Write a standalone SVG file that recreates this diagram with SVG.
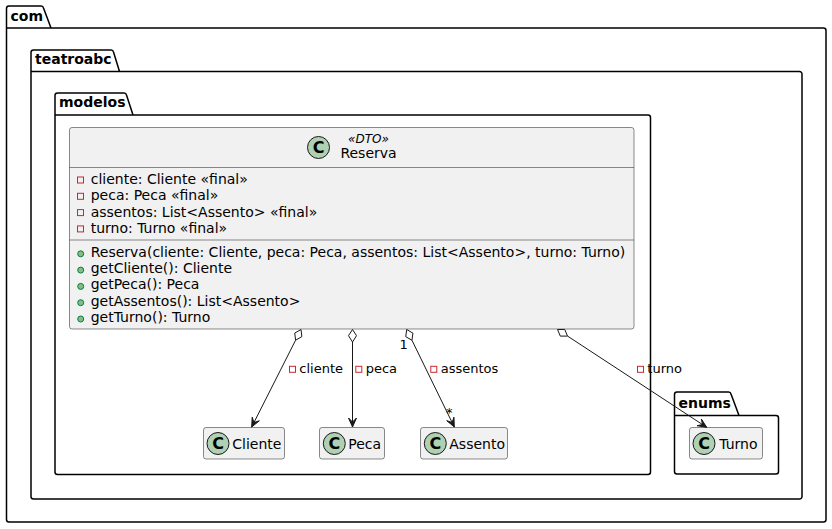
<svg xmlns="http://www.w3.org/2000/svg" width="832" height="529" viewBox="0 0 832 529">
<style>
.pkg{fill:none;stroke:#000000;stroke-width:1.5}
.pkgt{font-family:"DejaVu Sans",sans-serif;font-size:14px;font-weight:bold;fill:#000000}
.cls{fill:#F1F1F1;stroke:#181818;stroke-width:0.5}
.sep{stroke:#181818;stroke-width:0.5}
.t14{font-family:"DejaVu Sans",sans-serif;font-size:14px;fill:#000000}
.t13{font-family:"DejaVu Sans",sans-serif;font-size:13px;fill:#000000}
.st{font-family:"DejaVu Sans",sans-serif;font-size:12px;font-style:italic;fill:#000000}
.ci{fill:#ADD1B2;stroke:#181818;stroke-width:1}
.cl{font-family:"DejaVu Sans",sans-serif;font-size:16px;font-weight:bold;fill:#000000;text-anchor:middle}
.priv{fill:none;stroke:#C82930;stroke-width:1}
.pub{fill:#84BE84;stroke:#038048;stroke-width:1}
.ln{fill:none;stroke:#181818;stroke-width:1}
.dia{fill:#FFFFFF;stroke:#181818;stroke-width:1}
.arr{fill:#181818;stroke:#181818;stroke-width:1}
</style>
<rect width="832" height="529" fill="#FFFFFF"/>
<g id="pkg-com">
<path class="pkg" d="M6.5,8.5 A2.5,2.5 0 0 1 9,6 L41,6 A2.5,2.5 0 0 1 43.5,8 L51,28 L823.5,28 A2.5,2.5 0 0 1 826,30.5 L826,519.5 A2.5,2.5 0 0 1 823.5,522 L9,522 A2.5,2.5 0 0 1 6.5,519.5 Z M6.5,28 L51,28"/>
<text class="pkgt" x="10.5" y="20.5">com</text>
</g>
<g id="pkg-teatroabc">
<path class="pkg" d="M31,52.5 A2.5,2.5 0 0 1 33.5,50 L111,50 A2.5,2.5 0 0 1 113.5,52 L119.5,71.5 L799.5,71.5 A2.5,2.5 0 0 1 802,74 L802,496.5 A2.5,2.5 0 0 1 799.5,499 L33.5,499 A2.5,2.5 0 0 1 31,496.5 Z M31,71.5 L119.5,71.5"/>
<text class="pkgt" x="35" y="63.5">teatroabc</text>
</g>
<g id="pkg-modelos">
<path class="pkg" d="M55,95.5 A2.5,2.5 0 0 1 57.5,93 L124,93 A2.5,2.5 0 0 1 126.5,95 L133,115 L648,115 A2.5,2.5 0 0 1 650.5,117.5 L650.5,472 A2.5,2.5 0 0 1 648,474.5 L57.5,474.5 A2.5,2.5 0 0 1 55,472 Z M55,115 L133,115"/>
<text class="pkgt" x="59" y="107.3">modelos</text>
</g>
<g id="pkg-enums">
<path class="pkg" d="M674.5,394.5 A2.5,2.5 0 0 1 677,392 L728.5,392 A2.5,2.5 0 0 1 731,394 L739,415.5 L776,415.5 A2.5,2.5 0 0 1 778.5,418 L778.5,471.5 A2.5,2.5 0 0 1 776,474 L677,474 A2.5,2.5 0 0 1 674.5,471.5 Z M674.5,415.5 L739,415.5"/>
<text class="pkgt" x="678.5" y="408">enums</text>
</g>
<g id="Reserva">
<rect class="cls" x="69.5" y="127.5" width="564.5" height="201.5" rx="2.5"/>
<circle class="ci" cx="318.5" cy="147.5" r="11"/>
<text class="cl" x="318.5" y="153.3">C</text>
<text class="st" x="368.5" y="142.7" text-anchor="middle">«DTO»</text>
<text class="t14" x="368.5" y="158.3" text-anchor="middle">Reserva</text>
<line class="sep" x1="69.5" y1="167.5" x2="634" y2="167.5"/>
<rect class="priv" x="77.5" y="177" width="6" height="6"/>
<text class="t14" x="90.7" y="184">cliente: Cliente «final»</text>
<rect class="priv" x="77.5" y="193.3" width="6" height="6"/>
<text class="t14" x="90.7" y="200.3">peca: Peca «final»</text>
<rect class="priv" x="77.5" y="209.6" width="6" height="6"/>
<text class="t14" x="90.7" y="216.6">assentos: List&lt;Assento&gt; «final»</text>
<rect class="priv" x="77.5" y="225.9" width="6" height="6"/>
<text class="t14" x="90.7" y="232.9">turno: Turno «final»</text>
<line class="sep" x1="69.5" y1="240" x2="634" y2="240"/>
<circle class="pub" cx="80.7" cy="253.8" r="3"/>
<text class="t14" x="90.7" y="256.8">Reserva(cliente: Cliente, peca: Peca, assentos: List&lt;Assento&gt;, turno: Turno)</text>
<circle class="pub" cx="80.7" cy="270.1" r="3"/>
<text class="t14" x="90.7" y="273.1">getCliente(): Cliente</text>
<circle class="pub" cx="80.7" cy="286.4" r="3"/>
<text class="t14" x="90.7" y="289.4">getPeca(): Peca</text>
<circle class="pub" cx="80.7" cy="302.7" r="3"/>
<text class="t14" x="90.7" y="305.7">getAssentos(): List&lt;Assento&gt;</text>
<circle class="pub" cx="80.7" cy="319" r="3"/>
<text class="t14" x="90.7" y="322">getTurno(): Turno</text>
</g>
<g id="Cliente">
<rect class="cls" x="203.5" y="427.5" width="81" height="31.5" rx="2.5"/>
<circle class="ci" cx="218" cy="443.5" r="11"/>
<text class="cl" x="218" y="449.3">C</text>
<text class="t14" x="232.3" y="449">Cliente</text>
</g>
<g id="Peca">
<rect class="cls" x="319.5" y="427.5" width="65" height="31.5" rx="2.5"/>
<circle class="ci" cx="334.3" cy="443.5" r="11"/>
<text class="cl" x="334.3" y="449.3">C</text>
<text class="t14" x="348.3" y="449">Peca</text>
</g>
<g id="Assento">
<rect class="cls" x="420.5" y="427.5" width="87" height="31.5" rx="2.5"/>
<circle class="ci" cx="435.3" cy="443.5" r="11"/>
<text class="cl" x="435.3" y="449.3">C</text>
<text class="t14" x="449.3" y="449">Assento</text>
</g>
<g id="Turno">
<rect class="cls" x="689.5" y="427.5" width="73" height="31.5" rx="2.5"/>
<circle class="ci" cx="704" cy="443.5" r="11"/>
<text class="cl" x="704" y="449.3">C</text>
<text class="t14" x="719.3" y="449">Turno</text>
</g>
<g id="connectors">
<path class="ln" d="M295.58,340.21 L251.7,427"/>
<polygon class="dia" points="301,329.5 301.86,336.66 295.58,340.21 294.72,333.05"/>
<polygon class="arr" points="251.7,427 259.33,420.77 253.96,422.54 252.19,417.16"/>
<rect class="priv" x="289.5" y="366.3" width="6" height="6"/>
<text class="t13" x="299.3" y="373.3">cliente</text>

<path class="ln" d="M352.5,342 L352.5,427"/>
<polygon class="dia" points="352.5,329.5 356.5,335.7 352.5,342 348.5,335.7"/>
<polygon class="arr" points="352.5,427 356.5,418 352.5,422 348.5,418"/>
<rect class="priv" x="355.8" y="366.3" width="6" height="6"/>
<text class="t13" x="365.7" y="373.3">peca</text>

<path class="ln" d="M411.96,340.28 L454.3,427"/>
<polygon class="dia" points="406.7,329.5 412.92,333.14 411.96,340.28 405.74,336.65"/>
<polygon class="arr" points="454.3,427 446.76,420.67 452.11,422.51 453.95,417.16"/>
<rect class="priv" x="430.8" y="366.3" width="6" height="6"/>
<text class="t13" x="440.7" y="373.3">assentos</text>
<text class="t13" x="399.5" y="349.3">1</text>
<text class="t13" x="446" y="416.5">*</text>

<path class="ln" d="M567.54,336.08 L706.7,427.3"/>
<polygon class="dia" points="557.5,329.5 564.71,329.44 567.54,336.08 560.33,336.13"/>
<polygon class="arr" points="706.7,427.3 696.98,425.71 702.52,424.56 701.37,419.02"/>
<rect class="priv" x="637.5" y="366.3" width="6" height="6"/>
<text class="t13" x="647.3" y="373.3">turno</text>
</g>
</svg>
